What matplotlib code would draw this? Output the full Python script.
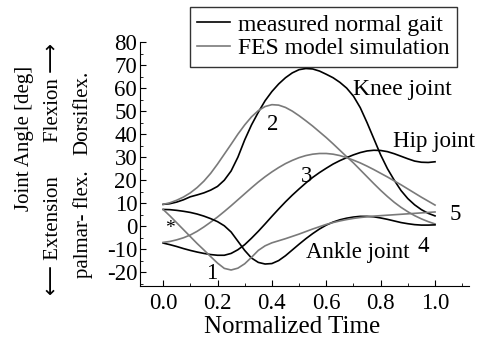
import numpy as np
import matplotlib
matplotlib.use("Agg")
import matplotlib.pyplot as plt
from matplotlib.ticker import MultipleLocator

plt.rcParams["font.family"] = ["Liberation Serif", "DejaVu Sans"]
plt.rcParams["axes.unicode_minus"] = False

# ---------------- data ----------------
t = [0.000, 0.025, 0.050, 0.075, 0.100, 0.125, 0.150, 0.175, 0.200, 0.225,
     0.250, 0.275, 0.300, 0.325, 0.350, 0.375, 0.400, 0.425, 0.450, 0.475,
     0.500, 0.525, 0.550, 0.575, 0.600, 0.625, 0.650, 0.675, 0.700, 0.725,
     0.750, 0.775, 0.800, 0.825, 0.850, 0.875, 0.900, 0.925, 0.950, 0.975,
     1.000]

knee_measured = [9.5, 9.8, 10.5, 11.5, 12.8, 13.6, 14.5, 15.7, 17.3, 20,
                 24, 30, 37.5, 44, 49.5, 54.5, 58.5, 61.8, 64.5, 66.6,
                 68, 68.5, 68.3, 67.4, 66, 64.5, 62.5, 60, 56.5, 51.5,
                 45, 38, 31, 25, 20, 15.5, 12, 9.3, 7.2, 5.6,
                 4.5]
knee_sim = [9.5, 10.2, 11.3, 12.7, 14.5, 16.8, 19.6, 23, 27, 31.3,
            35.6, 40, 44, 47.5, 50.2, 52, 52.8, 52.6, 51.6, 50,
            48, 45.8, 43.5, 41, 38.5, 35.8, 33, 30.2, 27.5, 24.5,
            21.5, 18.5, 15.6, 12.9, 10.4, 8.2, 6.3, 4.6, 3.2, 2,
            1]
hip_measured = [-7.3, -8, -8.8, -9.7, -10.5, -11.2, -11.8, -12.3, -12.6, -12.6,
                -11.8, -10.2, -8, -5.2, -2.2, 1, 4.3, 7.5, 10.6, 13.5,
                16.2, 18.8, 21.2, 23.3, 25.2, 27, 28.5, 29.8, 31, 32,
                32.7, 33, 32.9, 32.4, 31.5, 30.4, 29.3, 28.3, 27.8, 27.7,
                28]
hip_sim = [-7, -6.6, -5.9, -5, -3.8, -2.2, -0.3, 1.8, 4, 6.4,
           8.9, 11.5, 14.1, 16.7, 19.2, 21.5, 23.6, 25.5, 27.2, 28.6,
           29.8, 30.7, 31.3, 31.6, 31.6, 31.3, 30.7, 29.8, 28.7, 27.5,
           26.1, 24.6, 23, 21.4, 19.7, 18, 16.2, 14.4, 12.6, 10.9,
           9.2]
ankle_measured = [7.3, 7.2, 6.9, 6.5, 6, 5.3, 4.4, 3.3, 2, 0.2,
                  -2.5, -6.5, -10.5, -13.8, -15.7, -16.4, -16.2, -14.9, -12.8, -10.3,
                  -7.8, -5.4, -3.2, -1.2, 0.5, 1.8, 2.8, 3.5, 4, 4.3,
                  4.3, 4.1, 3.6, 3, 2.3, 1.6, 1.1, 0.7, 0.5, 0.5,
                  0.6]
ankle_sim = [7.3, 4.5, 1.5, -1.5, -4.5, -7.5, -10.3, -13.2, -16, -18.3,
             -19, -18.2, -16.3, -13.5, -10.5, -8.5, -7.2, -6.3, -5.4, -4.4,
             -3.4, -2.3, -1.2, -0.2, 0.8, 1.6, 2.3, 2.9, 3.4, 3.8,
             4.1, 4.4, 4.6, 4.8, 5, 5.2, 5.4, 5.6, 5.8, 6,
             6.2]

legend_labels = ["measured normal gait", "FES model simulation"]

black = "black"
gray = "#7a7a7a"

fig = plt.figure(figsize=(4.8, 3.39), dpi=100)
ax = fig.add_axes([0.2917, 0.156, 0.6854, 0.720])

l1, = ax.plot(t, knee_measured, color=black, lw=1.2)
l2, = ax.plot(t, knee_sim, color=gray, lw=1.2)
ax.plot(t, hip_measured, color=black, lw=1.2)
ax.plot(t, hip_sim, color=gray, lw=1.2)
ax.plot(t, ankle_measured, color=black, lw=1.2)
ax.plot(t, ankle_sim, color=gray, lw=1.2)

ax.set_xlim(-0.085, 1.125)
ax.set_ylim(-26, 80)
ax.set_xticks([0.0, 0.2, 0.4, 0.6, 0.8, 1.0])
ax.set_xticklabels(["0.0", "0.2", "0.4", "0.6", "0.8", "1.0"])
ax.set_yticks(range(-20, 81, 10))
ax.xaxis.set_minor_locator(MultipleLocator(0.1))
ax.yaxis.set_minor_locator(MultipleLocator(5))
ax.tick_params(which="both", direction="in", labelsize=16.5)
ax.tick_params(which="major", length=4, width=0.8)
ax.tick_params(which="minor", length=2, width=0.6)
ax.tick_params(axis="y", pad=2)
ax.tick_params(axis="x", pad=5)
for s in ["top", "right"]:
    ax.spines[s].set_visible(False)

# annotations
ax.text(0.70, 59.5, "Knee joint", fontsize=17, va="center")
ax.text(0.845, 36.8, "Hip joint", fontsize=16.5, va="center")
ax.text(0.524, -11.3, "Ankle joint", fontsize=16.5, va="center")
ax.text(0.18, -20.4, "1", fontsize=16.5, ha="center", va="center")
ax.text(0.404, 44.2, "2", fontsize=16.5, ha="center", va="center")
ax.text(0.529, 21.5, "3", fontsize=16.5, ha="center", va="center")
ax.text(0.956, -9, "4", fontsize=16.5, ha="center", va="center")
ax.text(1.073, 4.9, "5", fontsize=16.5, ha="center", va="center")
ax.text(0.026, -0.8, "*", fontsize=14, ha="center", va="center")

# axis labels
fig.text(292 / 480, 1 - 327 / 339, "Normalized Time", fontsize=18,
         ha="center", va="center")
fig.text(25 / 480, 1 - 138 / 339, "Joint Angle [deg]", fontsize=15,
         rotation=90, ha="center", va="center")
fig.text(54 / 480, 1 - 236 / 339, "\u27f5 Extension", fontsize=15,
         rotation=90, ha="center", va="center")
fig.text(54 / 480, 1 - 93 / 339, "Flexion \u27f6", fontsize=15,
         rotation=90, ha="center", va="center")
fig.text(83 / 480, 1 - 224 / 339, "palmar- flex.", fontsize=15,
         rotation=90, ha="center", va="center")
fig.text(83 / 480, 1 - 113 / 339, "Dorsiflex.", fontsize=15,
         rotation=90, ha="center", va="center")

leg = fig.legend([l1, l2], legend_labels, loc="upper left",
                 bbox_to_anchor=(190 / 480, 1 - 7 / 339), fontsize=17,
                 frameon=True, fancybox=False, handlelength=1.4,
                 handletextpad=0.35, borderpad=0.3, labelspacing=0.1,
                 borderaxespad=0)
leg.get_frame().set_edgecolor("black")
leg.get_frame().set_linewidth(1.0)

fig.savefig("out.png", dpi=100)
